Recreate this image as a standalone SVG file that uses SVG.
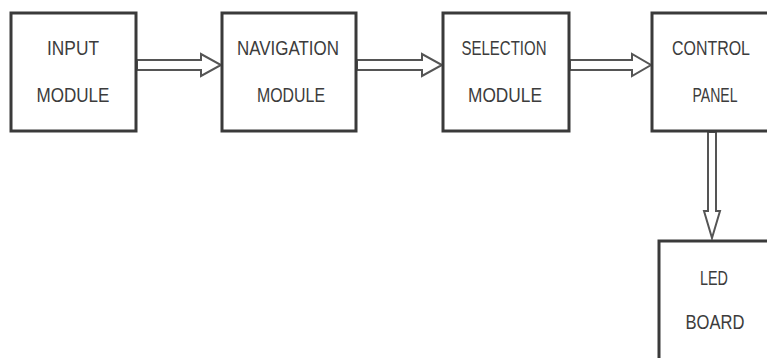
<svg xmlns="http://www.w3.org/2000/svg" width="767" height="358" viewBox="0 0 767 358">
<style>
.box{fill:#fff;stroke:#3a3a3a;stroke-width:3}
.arr{fill:#fff;stroke:#555;stroke-width:2;stroke-linejoin:miter}
.t{font-family:"Liberation Sans",Arial,sans-serif;font-size:21px;fill:#3c3c3c;text-anchor:middle}
</style>
<rect width="767" height="358" fill="#fff"/>
<g id="connectors">
<polygon class="arr" points="137,60 201,60 201,54 221,65 201,76 201,70 137,70"/>
<polygon class="arr" points="357,60 422,60 422,54 442,65 422,76 422,70 357,70"/>
<polygon class="arr" points="570,60 632,60 632,54 651,65 632,76 632,70 570,70"/>
<polygon class="arr" points="708,132 708,211 704,211 712,238 720,211 716,211 716,132"/>
</g>
<g id="input">
<rect class="box" x="11" y="13" width="125" height="118"/>
<text class="t" x="73" y="55" textLength="52" lengthAdjust="spacingAndGlyphs">INPUT</text>
<text class="t" x="73" y="102" textLength="73" lengthAdjust="spacingAndGlyphs">MODULE</text>
</g>
<g id="navigation">
<rect class="box" x="222" y="13" width="134" height="118"/>
<text class="t" x="288" y="55" textLength="102" lengthAdjust="spacingAndGlyphs">NAVIGATION</text>
<text class="t" x="291" y="102" textLength="68" lengthAdjust="spacingAndGlyphs">MODULE</text>
</g>
<g id="selection">
<rect class="box" x="443" y="13" width="126" height="118"/>
<text class="t" x="504" y="55" textLength="85" lengthAdjust="spacingAndGlyphs">SELECTION</text>
<text class="t" x="505" y="102" textLength="74" lengthAdjust="spacingAndGlyphs">MODULE</text>
</g>
<g id="control">
<rect class="box" x="652" y="13" width="125" height="118"/>
<text class="t" x="711" y="55" textLength="78" lengthAdjust="spacingAndGlyphs">CONTROL</text>
<text class="t" x="715" y="102" textLength="45" lengthAdjust="spacingAndGlyphs">PANEL</text>
</g>
<g id="led">
<rect class="box" x="659" y="241" width="120" height="130"/>
<text class="t" x="714" y="285" textLength="28" lengthAdjust="spacingAndGlyphs">LED</text>
<text class="t" x="715" y="329" textLength="59" lengthAdjust="spacingAndGlyphs">BOARD</text>
</g>
</svg>
